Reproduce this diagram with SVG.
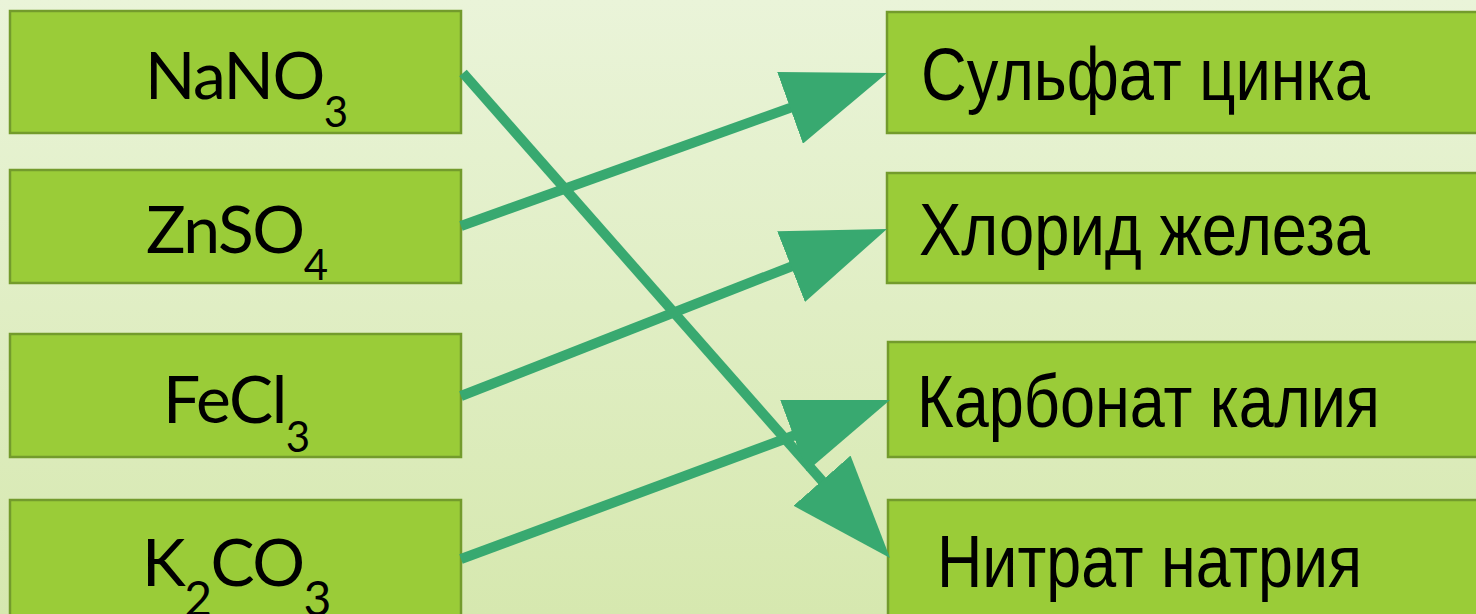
<svg xmlns="http://www.w3.org/2000/svg" width="1476" height="614" viewBox="0 0 1476 614">
<defs>
<linearGradient id="bg" x1="0" y1="0" x2="0" y2="1">
<stop offset="0" stop-color="#EAF4D9"/>
<stop offset="1" stop-color="#D6E8AF"/>
</linearGradient>
<marker id="ah" markerUnits="userSpaceOnUse" viewBox="0 0 103 76" markerWidth="103" markerHeight="76" refX="20" refY="38" orient="auto">
<path d="M0,0 L103,38 L0,76 z" fill="#38A970"/>
</marker>
<style>
.box{fill:#9ACC38;stroke:#739B2C;stroke-width:2.5}
.lt{font-family:Lato,"Open Sans",sans-serif;font-size:66px;fill:#000;letter-spacing:-1.5px}
.rt{font-family:"Liberation Sans",Arial,sans-serif;font-size:74px;fill:#000}
.conn line{stroke:#38A970;stroke-width:10;fill:none}
</style>
</defs>
<rect width="1476" height="614" fill="url(#bg)"/>
<g id="n-nano3"><rect class="box" x="10" y="11" width="451" height="122"/><text class="lt" x="145" y="99">NaNO<tspan dy="28" font-size="42">3</tspan></text></g>
<g id="n-znso4"><rect class="box" x="10" y="170" width="451" height="113"/><text class="lt" x="146" y="253">ZnSO<tspan dy="27" font-size="42">4</tspan></text></g>
<g id="n-fecl3"><rect class="box" x="10" y="334" width="451" height="123"/><text class="lt" x="163" y="423">FeCl<tspan dy="29" font-size="42">3</tspan></text></g>
<g id="n-k2co3"><rect class="box" x="10" y="500" width="451" height="130"/><text class="lt" x="142" y="586" font-size="75">K<tspan dy="30" font-size="48">2</tspan><tspan dy="-30">CO</tspan><tspan dy="30" font-size="48">3</tspan></text></g>
<g id="n-zinc"><rect class="box" x="887" y="12" width="600" height="121"/><text class="rt" x="921" y="100" textLength="449" lengthAdjust="spacingAndGlyphs">Сульфат цинка</text></g>
<g id="n-iron"><rect class="box" x="887" y="173" width="600" height="110"/><text class="rt" x="919" y="255" textLength="451" lengthAdjust="spacingAndGlyphs">Хлорид железа</text></g>
<g id="n-potassium"><rect class="box" x="888" y="342" width="600" height="115"/><text class="rt" x="917" y="427" textLength="463" lengthAdjust="spacingAndGlyphs">Карбонат калия</text></g>
<g id="n-sodium"><rect class="box" x="888" y="500" width="600" height="130"/><text class="rt" x="937" y="587" textLength="425" lengthAdjust="spacingAndGlyphs">Нитрат натрия</text></g>
<g id="connectors" class="conn">
<line x1="463" y1="73" x2="835.2" y2="495.7" marker-end="url(#ah)"/>
<line x1="461" y1="226" x2="808.9" y2="101.1" marker-end="url(#ah)"/>
<line x1="461" y1="396" x2="809.7" y2="259.3" marker-end="url(#ah)"/>
<line x1="461" y1="559" x2="812.2" y2="428.8" marker-end="url(#ah)"/>
</g>
</svg>
